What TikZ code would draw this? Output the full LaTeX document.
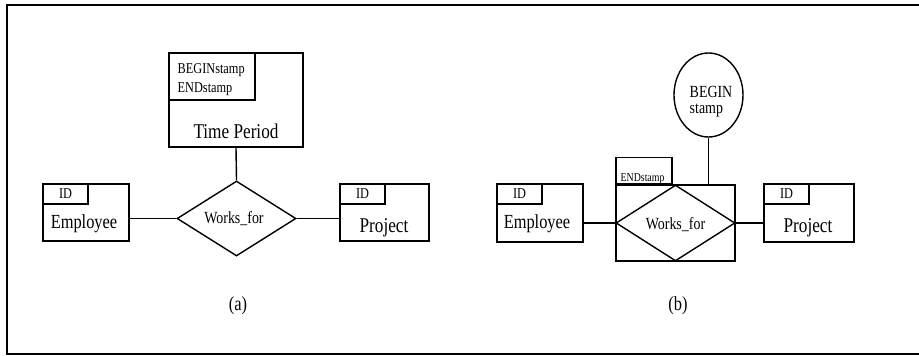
\documentclass[tikz,border=0pt]{standalone}
\usepackage{fontspec}
\setmainfont{Liberation Serif}[FakeStretch=0.82]
\usetikzlibrary{shapes.geometric}

\newcommand{\fsz}[1]{\fontsize{#1}{#1}\selectfont}

\tikzset{
    entbox/.style={draw, rectangle, inner sep=0pt},
    keybox/.style={draw, rectangle, inner sep=0pt, anchor=north west,
        minimum width=45pt, minimum height=20pt, font=\fsz{15}},
    relbox/.style={draw, diamond, inner sep=0pt, minimum width=119pt, minimum height=75pt},
    lbl/.style={inner sep=0pt, anchor=base},
}

\begin{document}
\begin{tikzpicture}[x=1pt,y=-1pt,line width=1.4pt]
    \useasboundingbox (0,0) rectangle (919,356);
    \draw[line width=2.6pt] (919,5) -- (7,5) -- (7,354) -- (919,354);

    \node[entbox, minimum width=134pt, minimum height=94pt] (time) at (236,100) {};
    \node[entbox, anchor=north west, minimum width=86pt, minimum height=47pt] (stamps) at (time.north west) {};
    \node[lbl, anchor=base west, font=\fsz{15}] (bstamp1) at (177,73) {BEGINstamp};
    \node[lbl, anchor=base west, font=\fsz{15}] (estamp1) at (177,92) {ENDstamp};
    \node[lbl, font=\fsz{21}] (timetxt) at (236,138) {Time Period};

    \node[entbox, minimum width=86pt, minimum height=57pt] (emp1) at (86,212.5) {};
    \node[keybox] (id1) at (emp1.north west) {ID};
    \node[lbl, font=\fsz{20}] (emp1txt) at (84,228) {Employee};

    \node[entbox, minimum width=89pt, minimum height=57pt] (proj1) at (384.5,212.5) {};
    \node[keybox] (pid1) at (proj1.north west) {ID};
    \node[lbl, font=\fsz{21}] (proj1txt) at (384,232) {Project};

    \node[relbox] (wf1) at (236.5,218.5) {};
    \node[lbl, font=\fsz{17}] (wf1txt) at (234,223) {Works\_for};

    \draw (time.south) -- (wf1.north);
    \draw (wf1.west) -- (wf1.west -| emp1.east);
    \draw (wf1.east) -- (wf1.east -| proj1.west);

    \node[font=\fsz{20}] (capa) at (238,306) {(a)};

    \node[draw, ellipse, minimum width=69pt, minimum height=84pt] (begin) at (708.5,95) {};
    \node[lbl, anchor=base west, font=\fsz{17}] (begintxt) at (689,97) {BEGIN};
    \node[lbl, anchor=base west, font=\fsz{17}] (stamptxt) at (689,113) {stamp};

    \node[entbox, minimum width=119pt, minimum height=76pt] (agg) at (675.5,223) {};
    \node[relbox, minimum height=76pt] (wf2) at (agg) {};
    \node[lbl, font=\fsz{17}] (wf2txt) at (675.5,229) {Works\_for};
    \node[entbox, anchor=south west, minimum width=56pt, minimum height=26pt] (endbox) at (agg.north west) {};
    \node[lbl, anchor=base west, font=\fsz{12}] (endtxt) at (620,181) {ENDstamp};

    \node[entbox, minimum width=86pt, minimum height=58pt] (emp2) at (540,213) {};
    \node[keybox] (id2) at (emp2.north west) {ID};
    \node[lbl, font=\fsz{20}] (emp2txt) at (537,228) {Employee};

    \node[entbox, minimum width=90pt, minimum height=58pt] (proj2) at (809,213) {};
    \node[keybox] (pid2) at (proj2.north west) {ID};
    \node[lbl, font=\fsz{21}] (proj2txt) at (808,232) {Project};

    \draw (begin.south) -- (begin.south |- agg.north);
    \draw (wf2.west) -- (wf2.west -| emp2.east);
    \draw (wf2.east) -- (wf2.east -| proj2.west);

    \node[font=\fsz{20}] (capb) at (678,306) {(b)};
\end{tikzpicture}
\end{document}
